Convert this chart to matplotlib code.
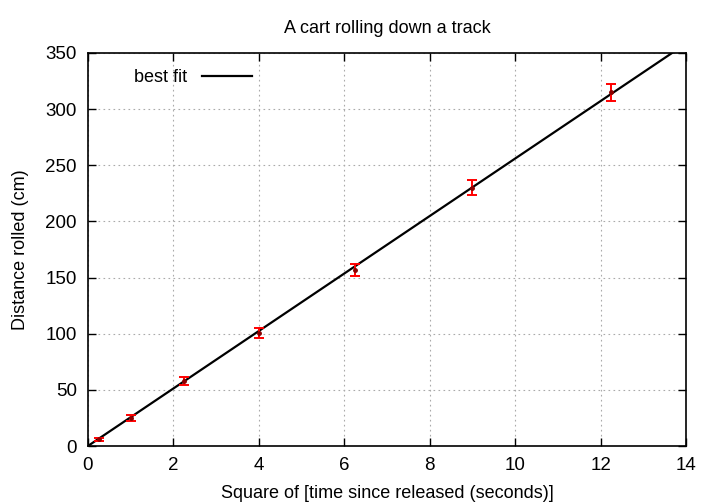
import matplotlib
matplotlib.use("Agg")
import matplotlib.pyplot as plt
import numpy as np

# measurements: square of time (s^2) vs distance rolled (cm)
t_squared = [0.25, 1.0, 2.25, 4.0, 6.25, 9.0, 12.25]
distance = [6, 25, 58, 101, 157, 230, 315]
distance_err = [1.5, 2.5, 3.5, 4.5, 5.5, 6.5, 7.5]

# best fit line parameters
fit_slope = 25.6
fit_intercept = 0.0

plt.rcParams['font.family'] = ['Liberation Sans', 'DejaVu Sans']

fig = plt.figure(figsize=(7.2, 5.04), dpi=100)
ax = fig.add_axes([0.122, 0.115, 0.831, 0.78])

x_fit = np.array([0, 14])
ax.plot(x_fit, fit_slope * x_fit + fit_intercept, color='black', lw=1.6,
        label='best fit', zorder=3)
ax.errorbar(t_squared, distance, yerr=distance_err, fmt='o', ms=2.5,
            color='red', mec='darkred', mfc='darkred', ecolor='red',
            elinewidth=1.4, capsize=3.5, capthick=1.4, zorder=4)

ax.set_xlim(0, 14)
ax.set_ylim(0, 350)
ax.set_xticks(range(0, 15, 2))
ax.set_yticks(range(0, 351, 50))
ax.grid(True, color='#aaaaaa', linestyle=(0, (1.5, 3)), lw=0.8)
ax.tick_params(direction='in', top=True, right=True, labelsize=13.5, length=6,
               width=1, pad=8)
for s in ax.spines.values():
    s.set_linewidth(1.2)

ax.set_title('A cart rolling down a track', fontsize=13, pad=14)
ax.set_xlabel('Square of [time since released (seconds)]', fontsize=13, labelpad=8)
ax.set_ylabel('Distance rolled (cm)', fontsize=13, labelpad=12)

leg = ax.legend(loc='upper left', frameon=False, fontsize=13,
                markerfirst=False, handlelength=2.8, bbox_to_anchor=(0.05, 1.0))
for t in leg.get_texts():
    t.set_ha('right')

fig.savefig('out.png', dpi=100)
